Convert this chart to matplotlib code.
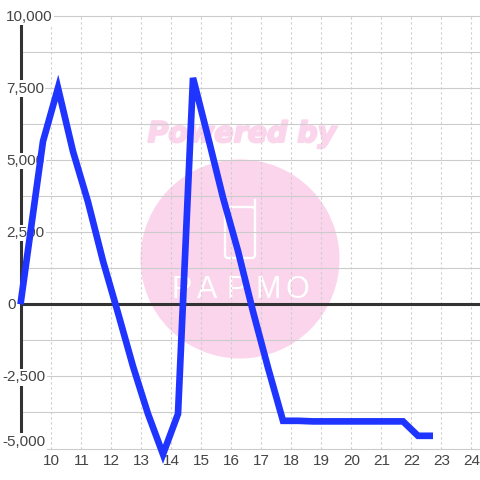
import matplotlib
matplotlib.use('Agg')
import matplotlib.pyplot as plt
import matplotlib.patheffects as pe
from matplotlib.patches import Circle, FancyBboxPatch
from matplotlib.transforms import Affine2D

# half hourly balance values
hours = [9.0, 9.75, 10.25, 10.75, 11.25, 11.75, 12.25, 12.75, 13.25, 13.75, 14.25,
         14.75, 15.25, 15.75, 16.25, 16.75, 17.25, 17.75, 18.25, 18.75, 19.25,
         19.75, 20.25, 20.75, 21.25, 21.75, 22.25, 22.75]
values = [0, 5650, 7500, 5300, 3550, 1500, -300, -2150, -3800, -5200, -3800,
          7850, 5800, 3700, 1850, -250, -2200, -4040, -4040, -4060, -4060,
          -4060, -4060, -4060, -4060, -4060, -4560, -4560]

x_ticks = list(range(10, 25))
y_ticks = [10000, 7500, 5000, 2500, 0, -2500, -5000]
y_labels = ['10,000', '7,500', '5,000', '2,500', '0', '-2,500', '-5,000']
y_minor = [8750, 6250, 3750, 1250, -1250, -3750]

PX_X = 30.0
PX_Y = 72.1 / 2500

fig = plt.figure(figsize=(4.8, 4.8), dpi=100)
ax = fig.add_axes([0, 0, 1, 1])
ax.set_xlim(10 - 50.5 / PX_X, 10 + (480 - 50.5) / PX_X)
ax.set_ylim(-(480 - 304.3) / PX_Y, 304.3 / PX_Y)
ax.axis('off')

# pixel coords, y going down, for the watermark and labels
px = Affine2D().scale(1, -1).translate(0, 480)
pink = '#fbd5ec'
ax.add_patch(Circle((240, 259), 99.5, transform=px, color=pink, lw=0, zorder=0))
ax.text(242, 134, 'Powered by', transform=px, color=pink, fontsize=20.5, family='DejaVu Sans',
        weight='bold', style='italic', ha='center', va='center', zorder=0,
        path_effects=[pe.withStroke(linewidth=1.5, foreground=pink)])

# logo glass
ax.add_patch(FancyBboxPatch((225, 207), 30, 51, boxstyle='round,pad=0,rounding_size=3', transform=px,
                            fc='none', ec='white', lw=1.7, zorder=0.5))
ax.plot([255, 255], [207, 200], transform=px, color='white', lw=1.7, zorder=0.5)
for x, letter in zip([182, 207, 237, 268, 297], 'PAPMO'):
    ax.text(x, 290, letter, transform=px, color='white', fontsize=22,
            family='Liberation Sans', ha='center', va='center', zorder=0.5)

# grid
for v in y_ticks + y_minor:
    ax.plot([9, ax.get_xlim()[1]], [v, v], color='#cccccc', lw=0.8, zorder=1, solid_capstyle='butt')
for h in x_ticks:
    ax.plot([h, h], [-5000, 10000], color='#cccccc', lw=0.8, ls=(0, (2, 2.5)), zorder=1)

# axes lines
ax.plot([9, 9], [-5000, 10000], color='#333333', lw=2.2, zorder=2, solid_capstyle='butt')
ax.plot([9, ax.get_xlim()[1]], [0, 0], color='#333333', lw=2.2, zorder=2, solid_capstyle='butt')

# labels have a white box that hides the axis behind them
for v, label in zip(y_ticks, y_labels):
    x_pos = 12 if label == '0' else (2 if label.startswith('-') else 6)
    ha = 'center' if label == '0' else 'left'
    # the lowest label is pushed up to stay inside the plot
    y_pos = 441.5 if v == -5000 else 304.3 - v * PX_Y + 0.8
    ax.text(x_pos, y_pos, label, transform=px, color='#444444', fontsize=11,
            family='Liberation Sans', ha=ha, va='center', zorder=3,
            bbox=dict(fc='white', ec='none', pad=1.0))
for h in x_ticks:
    ax.text(50.5 + (h - 10) * PX_X + 1, 461, str(h), transform=px, color='#444444', fontsize=11,
            family='Liberation Sans', ha='center', va='center', zorder=3)

ax.plot(hours, values, color='#1f35ff', lw=4.8, solid_joinstyle='miter', solid_capstyle='butt', zorder=4)

fig.savefig('out.png', dpi=100)
